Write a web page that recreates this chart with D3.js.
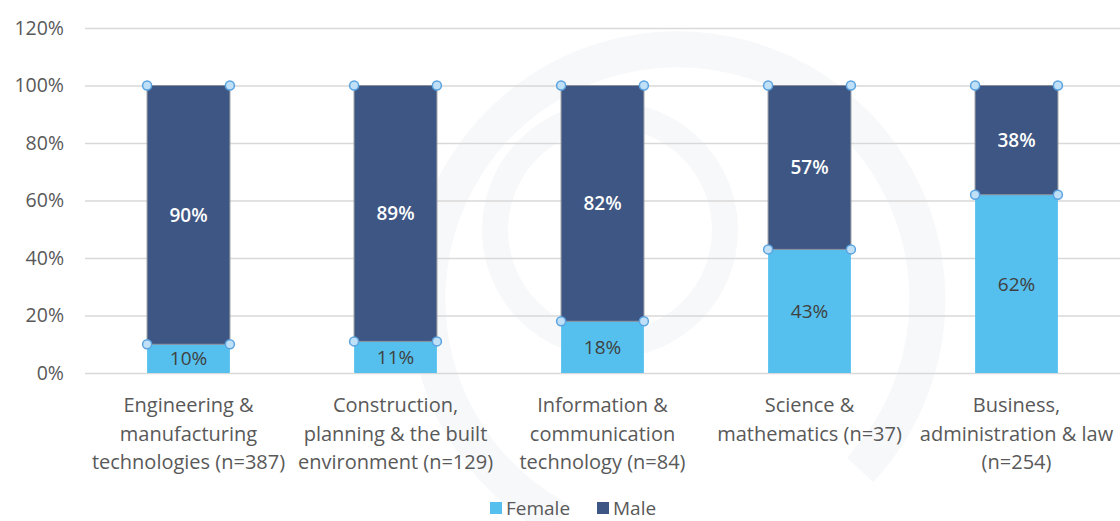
<!DOCTYPE html>
<html>
<head>
<meta charset="utf-8">
<script src="https://cdn.jsdelivr.net/npm/d3@7"></script>
<style>
  body { margin: 0; background: #fff; }
  svg text { font-family: "Open Sans", Lato, sans-serif; }
</style>
</head>
<body>
<svg id="chart" width="1120" height="521"></svg>
<script>
// Share of learners by gender in each field
var categories = [
  ["Engineering &", "manufacturing", "technologies (n=387)"],
  ["Construction,", "planning & the built", "environment (n=129)"],
  ["Information &", "communication", "technology (n=84)"],
  ["Science &", "mathematics (n=37)"],
  ["Business,", "administration & law", "(n=254)"]
];
var female = [10, 11, 18, 43, 62];
var male = [90, 89, 82, 57, 38];
var yTicks = [0, 20, 40, 60, 80, 100, 120];

var svg = d3.select("#chart");
var margin = {top: 28, right: 0, bottom: 148, left: 85};
var width = +svg.attr("width") - margin.left - margin.right;
var height = +svg.attr("height") - margin.top - margin.bottom;

// very faint watermark arcs in the background
var wm = svg.append("g").attr("fill", "none").attr("stroke", "#f7f8fa");
wm.append("path").attr("d", "M560,520 A250,250 0 1,1 860,470").attr("stroke-width", 36);
wm.append("circle").attr("cx", 610).attr("cy", 230).attr("r", 115).attr("stroke-width", 26);

var g = svg.append("g").attr("transform", "translate(" + margin.left + "," + margin.top + ")");

var x = d3.scaleBand().domain(d3.range(categories.length)).range([0, width])
  .paddingInner(0.6).paddingOuter(0.3);
var y = d3.scaleLinear().domain([0, 120]).range([height, 0]);

// gridlines + y labels
var yAxis = g.append("g").call(d3.axisLeft(y).tickValues(yTicks).tickSize(-width).tickPadding(21).tickFormat(function(d) { return d + "%"; }));
yAxis.select(".domain").remove();
yAxis.selectAll("line").attr("stroke", "#d9d9d9").attr("stroke-width", 1.3);
yAxis.selectAll("text").attr("fill", "#595959").attr("font-size", 19.5);

var data = categories.map(function(c, i) { return {i: i, female: female[i], male: male[i]}; });
var stack = d3.stack().keys(["female", "male"])(data);
var colors = {female: "#55c0ee", male: "#3e5683"};

stack.forEach(function(layer) {
  g.selectAll(".bar-" + layer.key)
    .data(layer)
    .enter().append("rect")
    .attr("x", function(d) { return x(d.data.i); })
    .attr("y", function(d) { return y(d[1]); })
    .attr("width", x.bandwidth())
    .attr("height", function(d) { return y(d[0]) - y(d[1]); })
    .attr("fill", colors[layer.key])
    .attr("stroke", layer.key === "male" ? "#8a8f99" : "none")
    .attr("stroke-width", 1);

  g.selectAll(".lab-" + layer.key)
    .data(layer)
    .enter().append("text")
    .attr("x", function(d) { return x(d.data.i) + x.bandwidth() / 2; })
    .attr("y", function(d) { return (y(d[0]) + y(d[1])) / 2; })
    .attr("dy", "0.36em")
    .attr("text-anchor", "middle")
    .attr("font-size", 19)
    .attr("font-weight", layer.key === "male" ? "600" : "normal")
    .attr("fill", layer.key === "male" ? "#ffffff" : "#404040")
    .text(function(d) { return d.data[layer.key] + "%"; });
});

// selection handles at segment corners
var handles = [];
data.forEach(function(d) {
  [d.female, 100].forEach(function(v) {
    handles.push({x: x(d.i), v: v});
    handles.push({x: x(d.i) + x.bandwidth(), v: v});
  });
});
g.selectAll(".handle")
  .data(handles)
  .enter().append("circle")
  .attr("cx", function(d) { return d.x; })
  .attr("cy", function(d) { return y(d.v); })
  .attr("r", 4.5)
  .attr("fill", "#bfe0f7")
  .attr("stroke", "#5aa3e0")
  .attr("stroke-width", 1.5);

// category labels
var cat = g.selectAll(".cat")
  .data(categories)
  .enter().append("text")
  .attr("text-anchor", "middle")
  .attr("font-size", 20)
  .attr("fill", "#595959")
  .attr("transform", function(d, i) { return "translate(" + (x(i) + x.bandwidth() / 2) + "," + (height + 39) + ")"; });
cat.selectAll("tspan")
  .data(function(d) { return d; })
  .enter().append("tspan")
  .attr("x", 0)
  .attr("y", function(d, j) { return j * 28.5; })
  .text(function(d) { return d; });

// legend
var legendItems = [{name: "Female", color: colors.female, x: 490}, {name: "Male", color: colors.male, x: 597}];
var legend = svg.selectAll(".legend")
  .data(legendItems)
  .enter().append("g")
  .attr("transform", function(d) { return "translate(" + d.x + ",502)"; });
legend.append("rect").attr("width", 12).attr("height", 12).attr("fill", function(d) { return d.color; });
legend.append("text")
  .attr("x", 16).attr("y", 13)
  .attr("font-size", 19)
  .attr("fill", "#595959")
  .text(function(d) { return d.name; });
</script>
</body>
</html>
